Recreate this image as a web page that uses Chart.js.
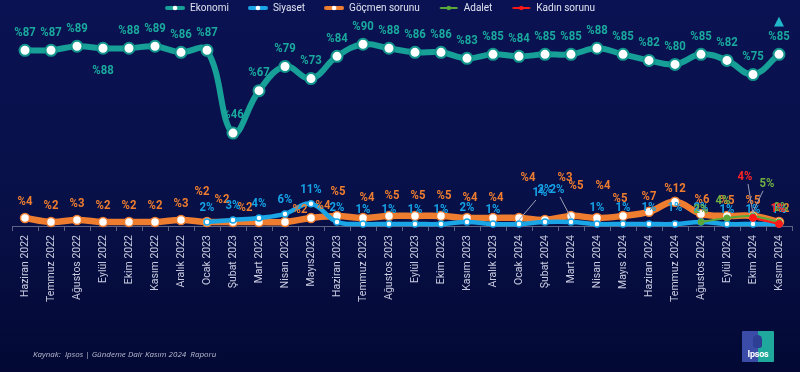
<!DOCTYPE html>
<html><head><meta charset="utf-8">
<style>
html,body{margin:0;padding:0;width:800px;height:372px;overflow:hidden;background:linear-gradient(180deg,#0b1253 0%,#081048 55%,#030934 100%);}
#wrap{position:relative;width:800px;height:372px}
canvas{position:absolute;left:0;top:0}
#src{position:absolute;left:33px;top:348px;font:italic 8px "Open Sans",Roboto,sans-serif;color:#b9bdd2;white-space:pre}
#logo{position:absolute;left:742px;top:331px;width:32px;height:31px;background:linear-gradient(90deg,#3a4ca8 0 50%,#1fa89c 50% 100%);border-radius:1px;overflow:hidden}
#logo span{position:absolute;left:0;right:0;bottom:3px;text-align:center;font:bold 9px Roboto,sans-serif;color:#fff;letter-spacing:-0.2px}
#logo i{position:absolute;left:11px;top:4px;width:9px;height:13px;border-radius:5px 5px 3px 3px;background:#2d3f95}
</style>
<script src="https://cdn.jsdelivr.net/npm/chart.js@4"></script>
</head><body>
<div id="wrap">
<canvas id="c" width="800" height="372"></canvas>
<div id="src">Kaynak:  Ipsos | Gündeme Dair Kasım 2024  Raporu</div>
<div id="logo"><i></i><span>Ipsos</span></div>
</div>
<script>
const categories = ['Haziran 2022','Temmuz 2022','Ağustos 2022','Eylül 2022','Ekim 2022','Kasım 2022','Aralık 2022',
  'Ocak 2023','Şubat 2023','Mart 2023','Nisan 2023','Mayıs2023','Haziran 2023','Temmuz 2023','Ağustos 2023','Eylül 2023',
  'Ekim 2023','Kasım 2023','Aralık 2023','Ocak 2024','Şubat 2024','Mart 2024','Nisan 2024','Mayıs 2024','Haziran 2024',
  'Temmuz 2024','Ağustos 2024','Eylül 2024','Ekim 2024','Kasım 2024'];
const seriesNames = ['Ekonomi','Siyaset','Göçmen sorunu','Adalet','Kadın sorunu'];
const ekonomi = [87,87,89,88,88,89,86,87,46,67,79,73,84,90,88,86,86,83,85,84,85,85,88,85,82,80,85,82,75,85];
const siyaset = [null,null,null,null,null,null,null,2,3,4,6,11,2,1,1,1,1,2,1,1,2,2,1,1,1,1,2,1,1,1];
const gocmen  = [4,2,3,2,2,2,3,2,2,2,2,4,5,4,5,5,5,4,4,4,3,5,4,5,7,12,6,5,5,2];
const adalet  = [null,null,null,null,null,null,null,null,null,null,null,null,null,null,null,null,null,null,null,null,null,null,null,null,null,null,2,4,5,2];
const kadin   = [null,null,null,null,null,null,null,null,null,null,null,null,null,null,null,null,null,null,null,null,null,null,null,null,null,null,null,null,4,1];

const colors = ['#17a097','#1aa5e6','#ef7d2f','#5aa83a','#ff1a1a'];

// label styling (separate from data)
const labelFont = 'bold 13.5px Roboto, sans-serif';
const labelSquish = 0.84;
const labelStyles = [
  {color:'#1aa99d', fmt:v=>'%'+v, dy:-18},
  {color:'#16a2e6', fmt:v=>v+'%', dy:-14},
  {color:'#ef7d2f', fmt:v=>'%'+v, dy:-16},
  {color:'#6fb043', fmt:v=>v+'%', dy:-14},
  {color:'#ff2424', fmt:v=>v+'%', dy:-15}
];
// per-label placement tweaks: [dx, dy, leaderLine]
const labelNudges = [
  {3:[0,22]},
  {19:[21,-31,true],20:[0,-32],21:[-14,-32,true],22:[0,-16],23:[0,-16],24:[0,-16],25:[0,-16]},
  {7:[-5,-30],8:[-11,-22],9:[-14,-14],10:[15,-12],11:[12,-12],12:[1,-24],13:[4,-20],14:[3,-20],15:[3,-20],16:[3,-20],17:[3,-20],18:[3,-20],19:[9,-40],20:[20,-42],21:[5,-30],22:[6,-32],23:[-3,-17],24:[0,-15],25:[0,-13],26:[1,-14],27:[0,-15],28:[0,-15],29:[3,-13]},
  {26:[0,-12],27:[-4,-17],28:[14,-32,true],29:[2,-14]},
  {28:[-8,-41,true],29:[-1,-15]}
];

function legendMark(color, thick){
  const c=document.createElement('canvas'); c.width=20; c.height=8;
  const g=c.getContext('2d');
  g.strokeStyle=color; g.lineWidth=thick?4:2; g.lineCap='round';
  g.beginPath(); g.moveTo(2,4); g.lineTo(18,4); g.stroke();
  g.beginPath(); g.arc(10,4,thick?2.3:2.2,0,Math.PI*2);
  g.fillStyle=thick?'#ffffff':color; g.fill();
  return c;
}
const legendMarks = [legendMark(colors[0],true),legendMark(colors[1],true),legendMark(colors[2],true),legendMark(colors[3],false),legendMark(colors[4],false)];

const labelPlugin = {
  id:'valueLabels',
  afterDatasetsDraw(chart){
    const ctx = chart.ctx;
    ctx.save();
    [0,2,1,3,4].forEach(d=>{
      const ds = chart.data.datasets[d];
      const st = labelStyles[d];
      const meta = chart.getDatasetMeta(d);
      ds.data.forEach((v,i)=>{
        if(v==null) return;
        const el = meta.data[i];
        const n = labelNudges[d][i] || [0, st.dy, false];
        const x = el.x + n[0], y = el.y + n[1];
        if(n[2]){
          ctx.strokeStyle='#9aa0b8'; ctx.lineWidth=1;
          ctx.beginPath(); ctx.moveTo(x + (n[0]>0?-4:3), y+7); ctx.lineTo(el.x, el.y-4); ctx.stroke();
        }
        ctx.save();
        ctx.translate(x, y); ctx.scale(labelSquish, 1);
        ctx.font = labelFont; ctx.fillStyle = st.color;
        ctx.textAlign='center'; ctx.textBaseline='middle';
        ctx.fillText(st.fmt(v), 0, 0);
        ctx.restore();
      });
    });
    const em = chart.getDatasetMeta(0).data;
    const last = em[em.length-1];
    ctx.font = '13px "DejaVu Sans", sans-serif';
    ctx.fillStyle = '#22b8cc'; ctx.textAlign='center'; ctx.textBaseline='middle';
    ctx.fillText('▲', last.x, last.y-33);
    ctx.restore();
  }
};

const legendShift = {
  id:'legendShift',
  afterLayout(chart){
    const l = chart.legend; if(!l) return;
    l.left -= 22; l.right -= 22; l.top = -16;
  }
};

function mk(i, data, extra){
  return Object.assign({
    label: seriesNames[i], data, borderColor: colors[i], backgroundColor: colors[i],
    tension: 0.4, spanGaps:false, clip:false
  }, extra);
}

new Chart(document.getElementById('c'), {
  type:'line',
  data:{
    labels: categories,
    datasets:[
      mk(0, ekonomi, {borderWidth:6, pointRadius:5.5, pointBackgroundColor:'#ffffff', pointBorderColor:'#12958d', pointBorderWidth:2, order:0}),
      mk(1, siyaset, {borderWidth:4.5, pointRadius:3, pointBackgroundColor:'#ffffff', pointBorderColor:colors[1], pointBorderWidth:1.5, order:3}),
      mk(2, gocmen, {borderWidth:6.5, pointRadius:4.5, pointBackgroundColor:'#ffffff', pointBorderColor:colors[2], pointBorderWidth:1.5, order:4}),
      mk(3, adalet, {borderWidth:2, pointRadius:3, pointBackgroundColor:colors[3], pointBorderColor:colors[3], pointBorderWidth:1, tension:0.2, order:2}),
      mk(4, kadin, {borderWidth:2, pointRadius:3.5, pointBackgroundColor:colors[4], pointBorderColor:colors[4], pointBorderWidth:1, tension:0.2, order:1})
    ]
  },
  options:{
    responsive:false, animation:false, devicePixelRatio:1,
    layout:{padding:{left:12,right:8,top:0,bottom:0}},
    plugins:{
      tooltip:{enabled:false},
      legend:{
        display:true, position:'top', align:'center', maxHeight:20,
        labels:{
          usePointStyle:true, pointStyleWidth:20, boxHeight:8, padding:19,
          color:'#dfe3f0', font:{family:'Roboto', size:10},
          generateLabels(chart){
            const items = Chart.defaults.plugins.legend.labels.generateLabels(chart);
            items.forEach(it=>{ it.pointStyle = legendMarks[it.datasetIndex]; it.rotation = 0; });
            items.sort((a,b)=>a.datasetIndex-b.datasetIndex);
            return items;
          }
        }
      }
    },
    scales:{
      x:{
        offset:true,
        grid:{display:true, drawOnChartArea:false, drawTicks:true, tickLength:5, color:'#5d6382', offset:true},
        border:{display:true, color:'#5d6382', width:1},
        ticks:{color:'#c9cce0', font:{family:'Roboto', size:10.5}, minRotation:90, maxRotation:90, autoSkip:false, padding:4},
        afterFit(scale){ scale.height = 146; }
      },
      y:{display:false, min:0, max:102}
    }
  },
  plugins:[labelPlugin, legendShift]
});
</script>
</body></html>
